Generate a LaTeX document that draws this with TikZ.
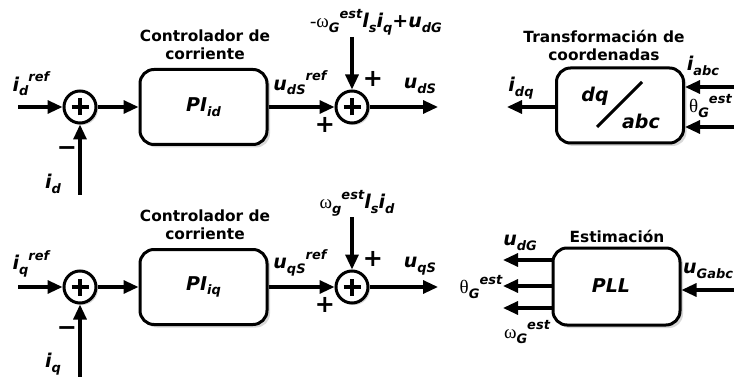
\documentclass[tikz,border=0pt]{standalone}
\usepackage{fontspec}
\setmainfont{DejaVu Sans}
\newfontfamily\gk{Liberation Serif}
\usetikzlibrary{arrows.meta,shadows}
\newcommand\Sb[1]{\raisebox{-0.25em}{\fontsize{13}{13}\selectfont #1}}
\newcommand\Sp[1]{\raisebox{0.5em}{\fontsize{13}{13}\selectfont #1}}
\newcommand\Gr[1]{{\gk\mdseries\upshape #1}}
\begin{document}
\begin{tikzpicture}[x=1pt,y=-1pt,
  blk/.style={draw,line width=3pt,rounded corners=14pt,fill=white,
    minimum width=127pt,minimum height=75pt,inner sep=0pt,
    drop shadow={shadow xshift=3pt,shadow yshift=-3pt,fill=black!30}},
  sumc/.style={circle,draw,line width=3pt,minimum size=32pt,inner sep=0pt,fill=white,
    drop shadow={shadow xshift=2pt,shadow yshift=-2pt,fill=black!30},
    path picture={\draw[line width=3.2pt]
      ([xshift=-8.5pt]path picture bounding box.center) -- ([xshift=8.5pt]path picture bounding box.center)
      ([yshift=-8.5pt]path picture bounding box.center) -- ([yshift=8.5pt]path picture bounding box.center);}},
  arr/.style={line width=3.2pt,-{Triangle[length=15pt,width=13pt]}},
  ttl/.style={font=\fontsize{15.4}{18}\selectfont\bfseries,align=center,inner sep=0pt},
  lbl/.style={font=\fontsize{19}{20}\selectfont\bfseries\itshape,inner sep=0pt},
  sgn/.style={font=\fontsize{24}{24}\selectfont\bfseries,inner sep=0pt},
  mns/.style={font=\fontsize{24}{24}\selectfont\bfseries,inner sep=0pt}]
\useasboundingbox (0,0) rectangle (734,377);

% ---------- top row ----------
\coordinate (in1) at (18,107);
\coordinate (fb1) at (80,195);
\coordinate (d1) at (352,37);
\coordinate (o1) at (438,107);
\node[sumc] (s1) at (80,107) {};
\node[blk] (b1) at (203.5,107) {};
\node[lbl] (t1) at (b1.center) {PI\Sb{id}};
\node[sumc] (s2) at (352,107) {};
\draw[arr] (in1) -- (s1);
\draw[arr] (fb1) -- (s1);
\draw[arr] (s1) -- (b1);
\draw[arr] (b1) -- (s2);
\draw[arr] (d1) -- (s2);
\draw[arr] (s2) -- (o1);
\node[ttl] (c1) at (205,36) {Controlador de};
\node[ttl] (c2) at (205,54) {corriente};
\node[lbl] (l1) at (31,84) {i\Sb{d}\Sp{ref}};
\node[mns] (m1) at (67,151) {−};
\node[lbl] (l2) at (53,184) {i\Sb{d}};
\node[lbl] (l3) at (300,83) {u\Sb{dS}\Sp{ref}};
\node[sgn] (p1) at (325,125) {+};
\node[sgn] (p2) at (373,79) {+};
\node[lbl] (l4) at (420,86) {u\Sb{dS}};
\node[lbl] (l5) at (376,22) {\Gr{-ω}\Sb{G}\Sp{est}l\Sb{s}i\Sb{q}+u\Sb{dG}};

% transformation block
\node[blk] (tb) at (620,105.5) {};
\coordinate (tq) at (507,107);
\coordinate (ta) at (734,87);
\coordinate (tt) at (734,127);
\draw[arr] (tb.west |- tq) -- (tq);
\draw[arr] (ta) -- (ta -| tb.east);
\draw[arr] (tt) -- (tt -| tb.east);
\coordinate (sl1) at (597,127);
\coordinate (sl2) at (642,82);
\draw[line width=3pt] (sl1) -- (sl2);
\node[lbl] (dq) at (595,96) {dq};
\node[lbl] (abc) at (641,121) {abc};
\node[ttl] (c3) at (604,36) {Transformación de};
\node[ttl] (c4) at (604,55) {coordenadas};
\node[lbl] (l6) at (521,88) {i\Sb{dq}};
\node[lbl] (l7) at (703,66) {i\Sb{abc}};
\node[lbl,anchor=west] (l8) at (689,106) {\Gr{θ}\Sb{G}\Sp{est}};

% ---------- bottom row ----------
\coordinate (in2) at (18,287);
\coordinate (fb2) at (80,377);
\coordinate (d2) at (352,217);
\coordinate (o2) at (438,287);
\node[sumc] (s3) at (80,287) {};
\node[blk] (b2) at (203.5,287) {};
\node[lbl] (t2) at (b2.center) {PI\Sb{iq}};
\node[sumc] (s4) at (352,287) {};
\draw[arr] (in2) -- (s3);
\draw[arr] (fb2) -- (s3);
\draw[arr] (s3) -- (b2);
\draw[arr] (b2) -- (s4);
\draw[arr] (d2) -- (s4);
\draw[arr] (s4) -- (o2);
\node[ttl] (c5) at (205,216) {Controlador de};
\node[ttl] (c6) at (205,234) {corriente};
\node[lbl] (l9) at (31,264) {i\Sb{q}\Sp{ref}};
\node[mns] (m2) at (67,331) {−};
\node[lbl] (l10) at (53,364) {i\Sb{q}};
\node[lbl] (l11) at (300,263) {u\Sb{qS}\Sp{ref}};
\node[sgn] (p3) at (325,305) {+};
\node[sgn] (p4) at (373,259) {+};
\node[lbl] (l12) at (420,266) {u\Sb{qS}};
\node[lbl] (l13) at (357,203) {\Gr{ω}\Sb{g}\Sp{est}l\Sb{s}i\Sb{d}};

% PLL block
\node[blk,minimum height=77pt] (pb) at (616.5,286.5) {};
\node[lbl] (pll) at (611,286) {PLL};
\node[ttl] (c7) at (617,236) {Estimación};
\coordinate (q1) at (503,260);
\coordinate (q2) at (503,286);
\coordinate (q3) at (503,308);
\coordinate (qi) at (734,290);
\draw[arr] (pb.west |- q1) -- (q1);
\draw[arr] (pb.west |- q2) -- (q2);
\draw[arr] (pb.west |- q3) -- (q3);
\draw[arr] (qi) -- (qi -| pb.east);
\node[lbl] (l14) at (520,243) {u\Sb{dG}};
\node[lbl] (l15) at (481,287) {\Gr{θ}\Sb{G}\Sp{est}};
\node[lbl] (l16) at (527,332) {\Gr{ω}\Sb{G}\Sp{est}};
\node[lbl,anchor=west] (l17) at (683,271) {u\Sb{Gabc}};
\end{tikzpicture}
\end{document}
